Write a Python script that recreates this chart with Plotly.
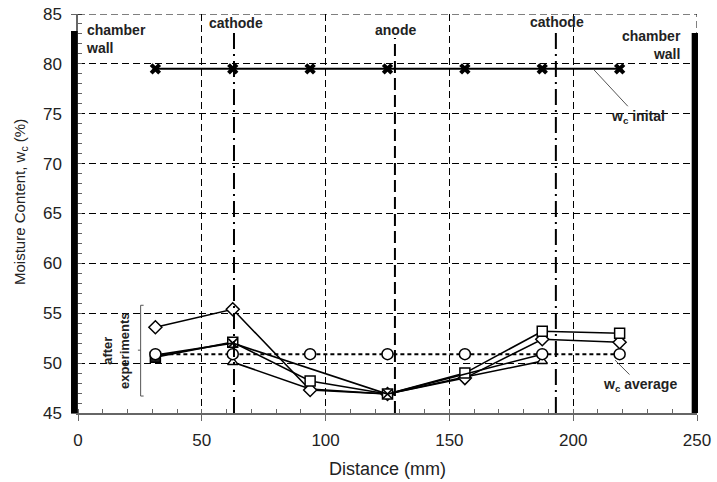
import plotly.graph_objects as go

x_pos = [31.25, 62.5, 93.75, 125, 156.25, 187.5, 218.75]
wc_initial = [79.5, 79.5, 79.5, 79.5, 79.5, 79.5, 79.5]
wc_diamond = [53.6, 55.4, 47.3, 46.9, 48.5, 52.4, 52.1]
wc_square = [50.6, 52.1, 48.2, 46.9, 49.0, 53.2, 53.0]
x_tri = [62.5, 93.75, 125, 156.25, 187.5]
wc_tri = [50.1, 47.4, 46.9, 48.6, 50.2]
x_cross = [31.25, 62.5, 125, 187.5]
wc_cross = [50.8, 52.0, 46.9, 50.9]
wc_average = [50.9, 50.9, 50.9, 50.9, 50.9, 50.9, 50.9]

cathodes = [63, 193]
anode = 128

FONT = "Liberation Sans, Arial, sans-serif"
fig = go.Figure()

def add(x, y, sym, dash="solid", size=9, width=1.6, fill="white"):
    fig.add_trace(go.Scatter(x=x, y=y, mode="lines+markers",
        line=dict(color="black", width=width, dash=dash),
        marker=dict(symbol=sym, size=size, color=fill,
                    line=dict(color="black", width=1.5)),
        showlegend=False, cliponaxis=False))

add(x_tri, wc_tri, "triangle-up", size=9)
add(x_pos, wc_diamond, "diamond", size=10)
add(x_pos, wc_square, "square", size=10,
    fill=["#222222"] + ["white"] * (len(x_pos) - 1))
fig.add_trace(go.Scatter(x=x_cross, y=wc_cross, mode="lines",
    line=dict(color="black", width=1.6), showlegend=False))
fig.add_trace(go.Scatter(x=[x_cross[1], x_cross[2]], y=[wc_cross[1], wc_cross[2]],
    mode="markers",
    marker=dict(symbol="x-thin", size=9, color="black",
                line=dict(color="black", width=1.6)),
    showlegend=False, cliponaxis=False))
add(x_pos, wc_average, "circle", dash="4px,3px", size=11, width=2)
fig.add_trace(go.Scatter(x=x_pos, y=wc_initial, mode="lines+markers",
    line=dict(color="black", width=2),
    marker=dict(symbol="x", size=10, color="black", line=dict(width=0)),
    showlegend=False))

# electrodes
for c in cathodes:
    fig.add_shape(type="line", x0=c, x1=c, y0=45, y1=83.2, xref="x", yref="y",
                  line=dict(color="black", width=2, dash="16px,5px,2px,5px"))
fig.add_shape(type="line", x0=anode, x1=anode, y0=45, y1=82.6, xref="x", yref="y",
              line=dict(color="black", width=2, dash="12px,5px"))

# chamber walls (paper coords so they are not clipped)
fig.add_shape(type="rect", x0=-0.0113, x1=-0.0005, y0=0, y1=0.9575, xref="paper", yref="paper",
              fillcolor="black", line=dict(width=0))
fig.add_shape(type="rect", x0=0.9914, x1=1.0016, y0=0, y1=0.9525, xref="paper", yref="paper",
              fillcolor="black", line=dict(width=0))

# top and right dashed border
fig.add_shape(type="line", x0=0, x1=250, y0=85, y1=85, xref="x", yref="y",
              line=dict(color="black", width=1, dash="7px,4px"))
fig.add_shape(type="line", x0=250, x1=250, y0=45, y1=85, xref="x", yref="y",
              line=dict(color="black", width=1, dash="7px,4px"))

# bracket for "after experiments"
br = "#555555"
fig.add_shape(type="path", path="M 26.5,55.8 L 25.3,55.8 L 25.3,46.7 L 26.5,46.7",
              xref="x", yref="y", line=dict(color=br, width=1))
fig.add_shape(type="line", x0=25.3, x1=24.2, y0=51.3, y1=51.3, xref="x", yref="y",
              line=dict(color=br, width=1))

bold = dict(family=FONT, size=14, color="#222222")
fig.add_annotation(x=2.4, y=84.4, text="<b>chamber<br>wall</b>", showarrow=False,
                   xanchor="left", yanchor="top", align="left", font=bold)
fig.add_annotation(x=244.4, y=83.8, text="<b>chamber<br>wall</b>", showarrow=False,
                   xanchor="right", yanchor="top", align="right", font=bold)
fig.add_annotation(x=63.8, y=84.1, text="<b>cathode</b>", showarrow=False,
                   yanchor="middle", font=bold)
fig.add_annotation(x=193.6, y=84.2, text="<b>cathode</b>", showarrow=False,
                   yanchor="middle", font=bold)
fig.add_annotation(x=128.4, y=83.4, text="<b>anode</b>", showarrow=False,
                   yanchor="middle", font=bold)
fig.add_annotation(x=208.4, y=79.4, ax=226, ay=74.7, axref="x", ayref="y",
                   text="<b>w<sub>c</sub> inital</b>", showarrow=True,
                   font=bold, arrowhead=0, arrowwidth=1, arrowcolor="#555555",
                   standoff=0)
fig.add_annotation(x=216.9, y=50.3, ax=227, ay=47.8, axref="x", ayref="y",
                   text="<b>w<sub>c</sub> average</b>", showarrow=True,
                   font=bold, arrowhead=0, arrowwidth=1, arrowcolor="#555555",
                   standoff=0)
fig.add_annotation(x=15.3, y=51.3, text="<b>after<br>experiments</b>", showarrow=False,
                   textangle=-90, font=dict(family=FONT, size=13, color="#222222"))
# y-axis title
fig.add_annotation(x=-0.092, y=0.529, xref="paper", yref="paper",
                   text="Moisture Content, w<sub>c</sub> (%)", showarrow=False,
                   textangle=-90, xanchor="center", yanchor="middle",
                   font=dict(family=FONT, size=15, color="#222222"))

fig.update_layout(
    width=717, height=482,
    margin=dict(l=78, r=20, t=14, b=69),
    plot_bgcolor="white", paper_bgcolor="white",
    font=dict(family=FONT, color="#222222"),
)
fig.update_xaxes(range=[0, 250], dtick=50, tick0=0, automargin=False,
    ticklabeloverflow="allow", ticklabelstandoff=5,
    showgrid=True, gridcolor="black", gridwidth=1, griddash="7px,4px",
    showline=True, linecolor="#666666", linewidth=1.5, zeroline=False,
    ticks="outside", ticklen=6, tickcolor="#666666",
    minor=dict(dtick=10, ticks="inside", ticklen=4, tickcolor="#666666", showgrid=False),
    tickfont=dict(family=FONT, size=17),
    title=dict(text="Distance (mm)", font=dict(family=FONT, size=18), standoff=13))
fig.update_yaxes(range=[45, 85], dtick=5, tick0=45, automargin=False,
    ticklabeloverflow="allow", ticklabelstandoff=6,
    showgrid=True, gridcolor="black", gridwidth=1, griddash="7px,4px",
    showline=True, linecolor="#666666", linewidth=1.5, zeroline=False,
    ticks="outside", ticklen=5, tickcolor="#666666",
    minor=dict(dtick=1, ticks="inside", ticklen=4, tickcolor="#666666", showgrid=False),
    tickfont=dict(family=FONT, size=17))

# remove the default 8px page margin so the figure fills the window exactly
fig.write_html("out.html", config={"displayModeBar": False},
               post_script="document.body.style.margin='0';document.body.style.overflow='hidden';")
